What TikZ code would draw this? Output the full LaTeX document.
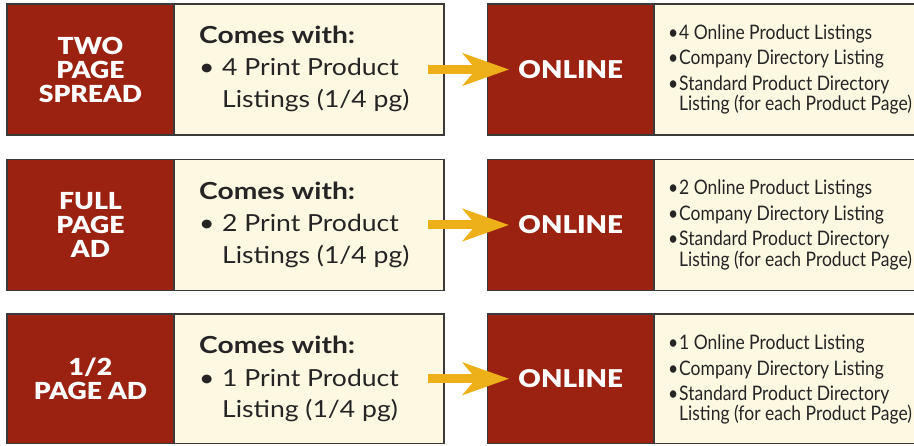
\documentclass[tikz,border=0pt]{standalone}
\usepackage{fontspec}
\setmainfont{Lato}
\newfontfamily\headf{Lato Black}[FakeStretch=1.13]
\newfontfamily\bodyf{Lato}[FakeStretch=1.13]
\newfontfamily\comef{Lato Bold}[FakeStretch=1.2]
\newfontfamily\narrowf{Lato}[FakeStretch=0.875]
\usetikzlibrary{arrows.meta}
\definecolor{dred}{HTML}{9B2211}
\definecolor{cream}{HTML}{FDF8E2}
\definecolor{gold}{HTML}{EDB018}
\definecolor{bord}{HTML}{3A3A3A}
\definecolor{ink}{HTML}{262425}
\tikzset{
  boxbase/.style={draw=bord, line width=1.2pt, anchor=north west, inner sep=0pt, outer sep=0pt},
  redbox/.style={boxbase, fill=dred, minimum width=167pt},
  creambox/.style={boxbase, fill=cream, minimum width=270pt},
  onlinebox/.style={boxbase, fill=dred, minimum width=166.5pt},
  infobox/.style={boxbase, fill=cream, minimum width=264pt},
  headtxt/.style={text=white, align=center, inner sep=0pt, font=\headf\fontsize{23.5}{24}\selectfont},
  onltxt/.style={text=white, inner sep=0pt, font=\headf\fontsize{24.5}{25}\selectfont},
  cometxt/.style={text=ink, align=left, inner sep=0pt, anchor=base west, font=\bodyf\fontsize{23.5}{32}\selectfont},
  listtxt/.style={text=ink, align=left, inner sep=0pt, anchor=base west, font=\narrowf\fontsize{20}{20.5}\selectfont},
  flow/.style={draw=gold, line width=9pt, -{Stealth[length=46pt, width=32pt, inset=13pt]}}
}
\newcommand{\bl}{\makebox[11pt][l]{\textbullet}}
\newcommand{\cbl}{\makebox[23pt][l]{\textbullet}}
\begin{document}
\begin{tikzpicture}[x=1pt, y=-1pt]
\clip (0,0) rectangle (914,446);
\fill[white] (0,0) rectangle (914,446);
\foreach \i/\ty/\h/\head/\n/\pl/\ol in {
  1/4/131/{TWO\\PAGE\\SPREAD}/4/{Listings}/{4 Online Product Listings},
  2/159.5/131/{FULL\\PAGE\\AD}/2/{Listings}/{2 Online Product Listings},
  3/314/129.5/{1/2\\PAGE AD}/1/{Listing}/{1 Online Product Listing}}{
  \node[redbox, minimum height=\h pt] (ad\i) at (7,\ty) {};
  \node[creambox, minimum height=\h pt] (cw\i) at (174,\ty) {};
  \node[onlinebox, minimum height=\h pt] (on\i) at (487.5,\ty) {};
  \node[infobox, minimum height=\h pt] (inf\i) at (654,\ty) {};
  \node[headtxt] (adt\i) at (ad\i.center) {\head};
  \node[cometxt] (cwt\i) at (199,\ty+104) {{\comef Comes with:}\\\cbl\n\ Print Product\\\hspace*{23pt}\pl\ (1/4 pg)};
  \coordinate (s\i) at ([xshift=-16pt]cw\i.east);
  \coordinate (e\i) at ([xshift=21.5pt]on\i.west);
  \draw[flow] (s\i) -- (e\i);
  \node[onltxt] (ont\i) at (on\i.center) {ONLINE};
  \node[listtxt] (inft\i) at (668,\ty+107) {\bl\ol\\[5pt]\bl Company Directory Listing\\[5pt]\bl Standard Product Directory\\\hspace*{11pt}Listing (for each Product Page)};
}
\end{tikzpicture}
\end{document}
